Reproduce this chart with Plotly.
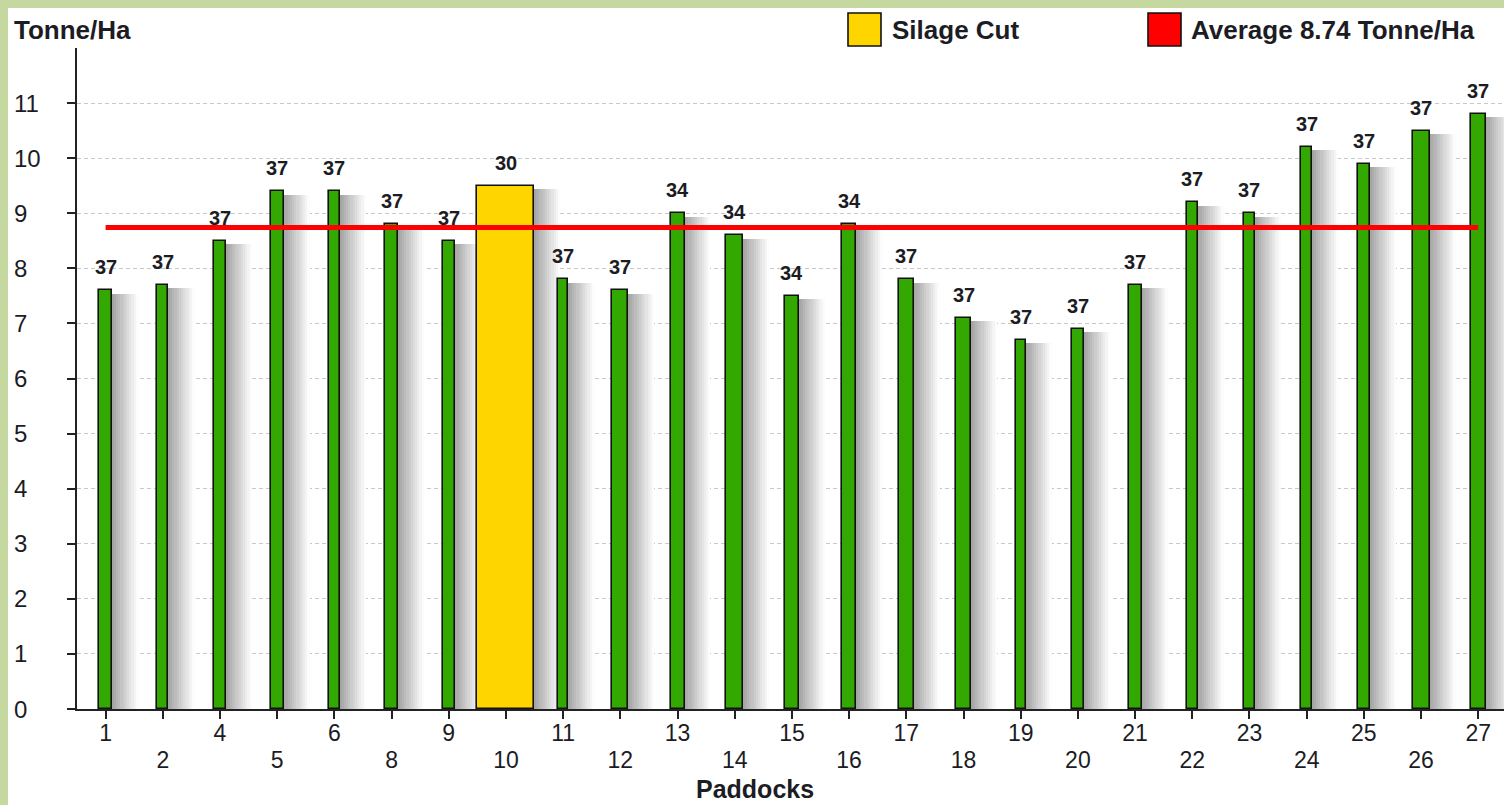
import plotly.graph_objects as go

# ---------------- data ----------------
paddocks = ["1", "2", "4", "5", "6", "8", "9", "10", "11", "12", "13", "14", "15",
            "16", "17", "18", "19", "20", "21", "22", "23", "24", "25", "26", "27"]
yield_t_ha = [7.6, 7.7, 8.5, 9.4, 9.4, 8.8, 8.5, 9.5, 7.8, 7.6, 9.0, 8.6, 7.5,
              8.8, 7.8, 7.1, 6.7, 6.9, 7.7, 9.2, 9.0, 10.2, 9.9, 10.5, 10.8]
bar_labels = ["37", "37", "37", "37", "37", "37", "37", "30", "37", "37", "34", "34", "34",
              "34", "37", "37", "37", "37", "37", "37", "37", "37", "37", "37", "37"]
silage_cut = ["10"]
average = 8.74
y_ticks = [0, 1, 2, 3, 4, 5, 6, 7, 8, 9, 10, 11]

# ---------------- styles ----------------
bar_px_widths = [13, 11, 12, 13, 11, 13, 12, 57, 10, 16, 14, 17, 14,
                 14, 15, 15, 10, 12, 13, 11, 11, 11, 12, 17, 15]
PX_PER_CAT = 57.2
FONT = "Liberation Sans, Arial, sans-serif"
TXT = "#1c1c24"
GREEN = "#33a800"
YELLOW = "#ffd500"
RED = "#ff0000"
FRAME = "#c5d89f"

W, H = 1504, 805
L, R, T, B = 77, 0, 48, 96
PW, PH = W - L - R, H - T - B


def px_x(px):
    return (px - L) / PW


def px_y(py):
    return (H - B - py) / PH


idx = list(range(len(paddocks)))
widths = [w / PX_PER_CAT for w in bar_px_widths]
colors = [YELLOW if p in silage_cut else GREEN for p in paddocks]

fig = go.Figure()

# drop shadows (gradient strips to the right of each bar)
N = 12
strip_px = 2.2
sw = strip_px / PX_PER_CAT
for k in range(N):
    g = int(165 + k * (252 - 165) / (N - 1))
    fig.add_trace(go.Bar(
        x=idx, y=[v - 0.06 for v in yield_t_ha],
        width=[sw + 0.002] * len(idx),
        offset=[w / 2 - 0.01 + k * sw for w in widths],
        marker=dict(color=f"rgb({g},{g},{g})", line=dict(width=0)),
        hoverinfo="skip", showlegend=False,
    ))

# main bars
fig.add_trace(go.Bar(
    x=idx, y=yield_t_ha, width=widths,
    marker=dict(color=colors, line=dict(color="#111111", width=1.6)),
    showlegend=False, name="Tonne/Ha",
))

# average line
fig.add_trace(go.Scatter(
    x=[idx[0], idx[-1]], y=[average, average], mode="lines",
    line=dict(color=RED, width=5), showlegend=False, hoverinfo="skip",
))

# invisible trace anchoring the second (staggered) label row axis
fig.add_trace(go.Scatter(
    x=idx, y=yield_t_ha, xaxis="x2", mode="markers", marker=dict(opacity=0),
    showlegend=False, hoverinfo="skip",
))

annotations = []
# bar value labels
for i, (v, lab) in enumerate(zip(yield_t_ha, bar_labels)):
    annotations.append(dict(x=i, y=v, xref="x", yref="y", text=f"<b>{lab}</b>",
                            showarrow=False, yanchor="bottom", yshift=10,
                            font=dict(family=FONT, size=20, color=TXT)))
# y tick labels (left aligned)
for t in y_ticks:
    annotations.append(dict(x=px_x(12), y=t, xref="paper", yref="y", text=str(t),
                            showarrow=False, xanchor="left", yanchor="middle",
                            font=dict(family=FONT, size=24, color=TXT)))
# axis titles
annotations.append(dict(x=px_x(12), y=px_y(30), xref="paper", yref="paper",
                        text="<b>Tonne/Ha</b>", showarrow=False, xanchor="left",
                        yanchor="middle", font=dict(family=FONT, size=26, color=TXT)))
annotations.append(dict(x=px_x(755), y=px_y(789), xref="paper", yref="paper",
                        text="<b>Paddocks</b>", showarrow=False, xanchor="center",
                        yanchor="middle", font=dict(family=FONT, size=25, color=TXT)))
# legend texts
annotations.append(dict(x=px_x(890), y=px_y(30), xref="paper", yref="paper",
                        text="<b>Silage Cut</b>", showarrow=False, xanchor="left",
                        yanchor="middle", font=dict(family=FONT, size=26, color=TXT)))
annotations.append(dict(x=px_x(1189), y=px_y(30), xref="paper", yref="paper",
                        text=f"<b>Average {average} Tonne/Ha</b>", showarrow=False,
                        xanchor="left", yanchor="middle",
                        font=dict(family=FONT, size=26, color=TXT)))

shapes = [
    # white chart panel inside green frame
    dict(type="rect", xref="paper", yref="paper", x0=px_x(8), x1=px_x(W + 5),
         y0=px_y(H + 5), y1=px_y(8), fillcolor="white", line=dict(width=0), layer="below"),
    # legend boxes
    dict(type="rect", xref="paper", yref="paper", x0=px_x(848), x1=px_x(881),
         y0=px_y(46), y1=px_y(13), fillcolor=YELLOW, line=dict(color="#111111", width=1.6)),
    dict(type="rect", xref="paper", yref="paper", x0=px_x(1148), x1=px_x(1181),
         y0=px_y(46), y1=px_y(13), fillcolor=RED, line=dict(color="#111111", width=1.6)),
]

row1_text = [p if i % 2 == 0 else "" for i, p in enumerate(paddocks)]
row2_vals = idx[1::2]
row2_text = paddocks[1::2]

fig.update_layout(
    width=W, height=H,
    margin=dict(l=L, r=R, t=T, b=B, pad=0),
    paper_bgcolor=FRAME, plot_bgcolor="white",
    barmode="overlay", bargap=0,
    showlegend=False,
    annotations=annotations, shapes=shapes,
    font=dict(family=FONT, color=TXT),
    xaxis=dict(range=[-0.5, 24.45], tickmode="array", tickvals=idx, ticktext=row1_text,
               showgrid=False, zeroline=False, showline=True, linecolor="#222222",
               linewidth=2, ticks="outside", ticklen=8, tickwidth=1.5, tickcolor="#222222",
               ticklabelstandoff=-6,
               tickfont=dict(family=FONT, size=23, color=TXT), fixedrange=True),
    xaxis2=dict(matches="x", overlaying="x", side="bottom", anchor="y",
                tickmode="array", tickvals=row2_vals, ticktext=row2_text,
                showgrid=False, zeroline=False, showline=False, ticks="",
                ticklabelstandoff=35,
                tickfont=dict(family=FONT, size=23, color=TXT), fixedrange=True),
    yaxis=dict(range=[0, 12], tickmode="array", tickvals=y_ticks, showticklabels=False,
               showgrid=True, gridcolor="#c8c8c8", griddash="4px,3px", gridwidth=1,
               zeroline=False, showline=True, linecolor="#222222", linewidth=2,
               ticks="outside", ticklen=8, tickwidth=1.5, tickcolor="#222222",
               fixedrange=True),
)

fig.write_html("out.html", config={"displayModeBar": False},
               post_script="document.body.style.margin='0';")
